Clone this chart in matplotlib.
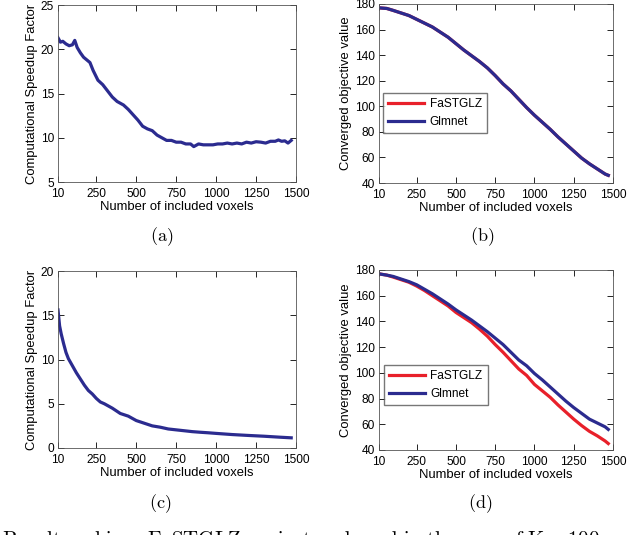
import matplotlib
matplotlib.use("Agg")
import matplotlib.pyplot as plt

plt.rcParams['font.family'] = ['Liberation Sans', 'DejaVu Sans']
plt.rcParams['mathtext.fontset'] = 'cm'

# ---- data ----
xticks = [10, 250, 500, 750, 1000, 1250, 1500]

# (a) speedup factor
xa = [10, 25, 40, 60, 80, 100, 115, 130, 150, 170, 190, 210, 230, 260, 290, 320, 350, 380,
      420, 450, 480, 510, 540, 570, 600, 630, 660, 690, 720, 750, 780, 810, 840, 860, 890,
      920, 950, 980, 1010, 1040, 1070, 1100, 1130, 1160, 1190, 1220, 1250, 1280, 1310,
      1340, 1370, 1390, 1410, 1430, 1450, 1470]
ya = [21.3, 20.8, 20.9, 20.6, 20.4, 20.5, 21.0, 20.2, 19.6, 19.1, 18.8, 18.5, 17.6, 16.5,
      16.0, 15.3, 14.6, 14.1, 13.7, 13.2, 12.6, 12.0, 11.3, 11.0, 10.8, 10.3, 10.0, 9.7,
      9.7, 9.5, 9.5, 9.3, 9.3, 9.0, 9.3, 9.2, 9.2, 9.2, 9.3, 9.3, 9.4, 9.3, 9.4, 9.3, 9.5,
      9.4, 9.55, 9.5, 9.4, 9.6, 9.6, 9.75, 9.6, 9.65, 9.4, 9.7]

# (c) speedup factor
xc = [10, 20, 30, 45, 60, 75, 100, 125, 150, 175, 200, 225, 250, 275, 300, 350, 400, 450,
      500, 550, 600, 650, 700, 750, 800, 850, 900, 950, 1000, 1100, 1200, 1300, 1400, 1470]
yc = [15.6, 13.8, 12.9, 11.8, 10.8, 10.1, 9.3, 8.5, 7.8, 7.1, 6.5, 6.1, 5.6, 5.2, 5.0,
      4.5, 3.9, 3.6, 3.1, 2.8, 2.5, 2.35, 2.15, 2.05, 1.95, 1.85, 1.78, 1.72, 1.65, 1.52,
      1.42, 1.33, 1.22, 1.15]

# (b)/(d) converged objective value
xo = [10, 60, 100, 150, 200, 250, 300, 350, 400, 450, 500, 550, 600, 650, 700, 750, 800,
      850, 900, 950, 1000, 1050, 1100, 1150, 1200, 1250, 1300, 1350, 1400, 1450, 1470]
b_fast = [177, 176.5, 175, 173, 171, 168, 165, 162, 158, 154, 149, 144, 139.5, 135, 130,
          124, 117.5, 112, 105.5, 99, 93, 87.5, 82, 76, 70.5, 65, 59.5, 55, 51, 47, 46]
b_glm = b_fast
d_fast = [177, 176, 174.5, 172.5, 170.5, 167.5, 164, 160, 156, 152, 147, 143, 139, 134,
          128.5, 122, 116, 109.5, 103, 98, 91, 86, 81, 75, 69.5, 64, 59, 54.5, 51, 47, 45]
d_glm = [177, 176, 175, 173, 171, 168.5, 165, 161.5, 157.5, 153.5, 149, 145, 141, 136.5,
         132, 127, 122, 116, 110, 105.5, 99.5, 94.5, 89, 83.5, 78, 73, 68.5, 64, 61, 58, 56]

RED = '#e8202a'
BLUE = '#2b2b8f'
LW = 2.3
TFS = 8.6
LFS = 9.4

fig = plt.figure(figsize=(6.4, 5.35), dpi=100)
H = 535.0
W = 640.0

def add_ax(l, t, r, b):
    return fig.add_axes([l / W, 1 - b / H, (r - l) / W, (b - t) / H])

def style(ax, ylim, yticks, ylabel):
    ax.set_xlim(10, 1500)
    ax.set_xticks(xticks)
    ax.set_ylim(*ylim)
    ax.set_yticks(yticks)
    ax.tick_params(direction='in', top=True, right=True, length=4, width=0.6,
                   labelsize=TFS)
    ax.tick_params(axis='x', pad=4)
    ax.tick_params(axis='y', pad=3)
    for s in ax.spines.values():
        s.set_linewidth(0.6)
        s.set_color('#555555')
    ax.set_xlabel('Number of included voxels', fontsize=LFS, labelpad=1)
    ax.set_ylabel(ylabel, fontsize=LFS, labelpad=2)

def legend(ax, anchor):
    ax.legend(loc='upper left', bbox_to_anchor=anchor, borderaxespad=0, fontsize=TFS,
              handlelength=3.0, frameon=True, fancybox=False, edgecolor='#555555',
              borderpad=0.45, labelspacing=0.45, handletextpad=0.45)

axa = add_ax(58, 5, 296, 182)
axa.plot(xa, ya, color=BLUE, lw=LW)
style(axa, (5, 25), [5, 10, 15, 20, 25], 'Computational Speedup Factor')

axb = add_ax(379, 4, 613, 183)
axb.plot(xo, b_fast, color=RED, lw=LW, label='FaSTGLZ')
axb.plot(xo, b_glm, color=BLUE, lw=LW, label='Glmnet')
style(axb, (40, 180), list(range(40, 181, 20)), 'Converged objective value')
legend(axb, (0.017, 0.503))

axc = add_ax(58, 271, 296, 448)
axc.plot(xc, yc, color=BLUE, lw=LW)
style(axc, (0, 20), [0, 5, 10, 15, 20], 'Computational Speedup Factor')

axd = add_ax(379, 270, 613, 450)
axd.plot(xo, d_fast, color=RED, lw=LW, label='FaSTGLZ')
axd.plot(xo, d_glm, color=BLUE, lw=LW, label='Glmnet')
style(axd, (40, 180), list(range(40, 181, 20)), 'Converged objective value')
legend(axd, (0.02, 0.472))

for lab, x, y in [('(a)', 162, 237), ('(b)', 482, 237), ('(c)', 160, 504), ('(d)', 480, 504)]:
    fig.text(x / W, 1 - y / H, r'$\mathrm{%s}$' % lab, ha='center', va='center', fontsize=13)

fig.text(2 / W, 1 - 529 / H,
         r'$\mathrm{Results\ achieve\ FaSTGLZ\ against\ and\ used\ in\ the\ case\ of\ K=100}$',
         ha='left', va='top', fontsize=15)

fig.savefig('out.png', dpi=100)
